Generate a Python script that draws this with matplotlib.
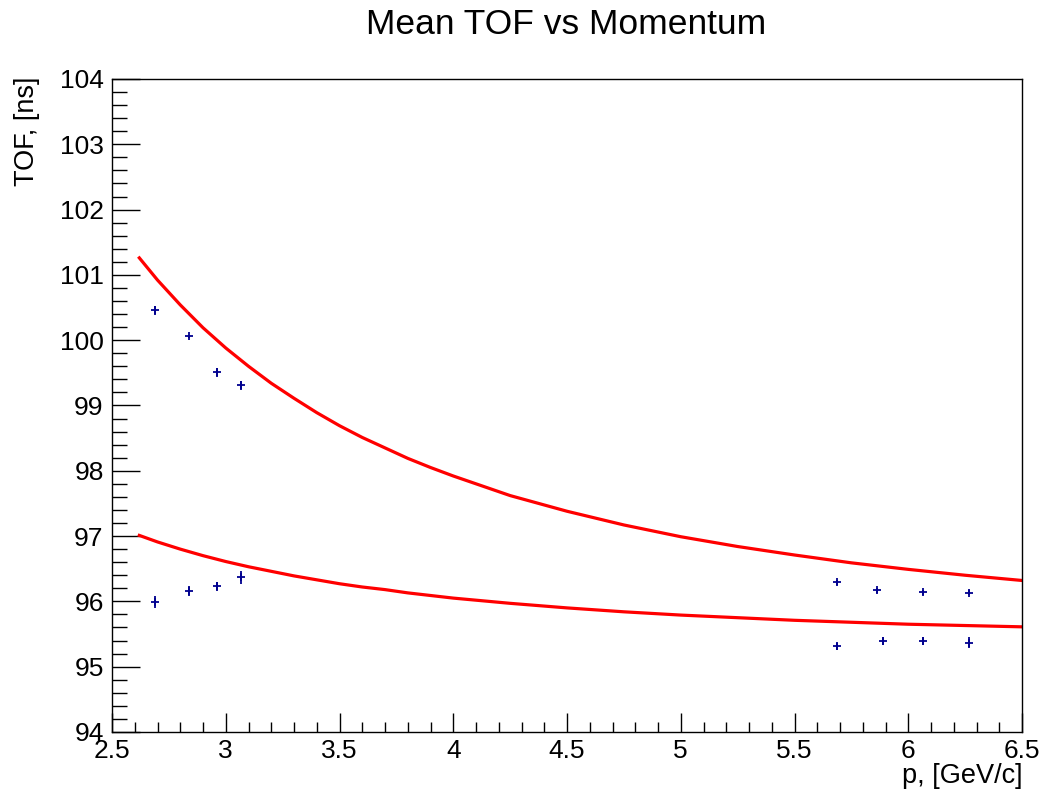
import matplotlib
matplotlib.use("Agg")
import matplotlib.pyplot as plt
from matplotlib.ticker import MultipleLocator

plt.rcParams['font.family'] = ['Liberation Sans', 'DejaVu Sans']

# Measured mean TOF points (two mass hypotheses, two momentum groups)
p_heavy = [2.689, 2.838, 2.960, 3.067, 5.688, 5.863, 6.065, 6.266]
tof_heavy = [100.46, 100.06, 99.51, 99.31, 96.29, 96.17, 96.14, 96.13]
err_heavy = [0.07, 0.02, 0.07, 0.07, 0.04, 0.04, 0.04, 0.04]

p_light = [2.689, 2.838, 2.960, 3.067, 5.688, 5.889, 6.065, 6.266]
tof_light = [95.99, 96.16, 96.23, 96.37, 95.31, 95.39, 95.39, 95.37]
err_light = [0.085, 0.08, 0.065, 0.10, 0.06, 0.06, 0.06, 0.09]

# Expected TOF curves
p_curve = [2.62, 2.7, 2.8, 2.9, 3.0, 3.1, 3.2, 3.3, 3.4, 3.5, 3.6, 3.7, 3.8, 3.9,
           4.0, 4.25, 4.5, 4.75, 5.0, 5.25, 5.5, 5.75, 6.0, 6.25, 6.5]
tof_curve_heavy = [101.26, 100.92, 100.54, 100.19, 99.88, 99.60, 99.34, 99.11,
                   98.89, 98.69, 98.51, 98.35, 98.19, 98.05, 97.92, 97.62,
                   97.38, 97.17, 96.99, 96.84, 96.71, 96.59, 96.49, 96.40, 96.32]
tof_curve_light = [97.01, 96.91, 96.80, 96.70, 96.61, 96.53, 96.46, 96.39,
                   96.33, 96.27, 96.22, 96.18, 96.13, 96.09, 96.05, 95.97,
                   95.90, 95.84, 95.79, 95.75, 95.71, 95.68, 95.65, 95.63, 95.61]

fig = plt.figure(figsize=(10.45, 7.92), dpi=100)
ax = fig.add_axes([0.1072, 0.0758, 0.978 - 0.1072, 0.9003 - 0.0758])

ax.plot(p_curve, tof_curve_heavy, color='#ff0000', lw=2.3)
ax.plot(p_curve, tof_curve_light, color='#ff0000', lw=2.3)

marker_color = '#00008f'
for px, py, pe in [(p_heavy, tof_heavy, err_heavy), (p_light, tof_light, err_light)]:
    ax.errorbar(px, py, yerr=pe, fmt='+', color=marker_color, ms=6, mew=1.3,
                elinewidth=1.3, capsize=0)

ax.set_xlim(2.5, 6.5)
ax.set_ylim(94, 104)

ax.xaxis.set_major_locator(MultipleLocator(0.5))
ax.xaxis.set_minor_locator(MultipleLocator(0.1))
ax.yaxis.set_major_locator(MultipleLocator(1))
ax.yaxis.set_minor_locator(MultipleLocator(0.2))

ax.xaxis.set_major_formatter(plt.FuncFormatter(lambda v, _: f"{v:g}"))
ax.yaxis.set_major_formatter(plt.FuncFormatter(lambda v, _: f"{v:g}"))

ax.tick_params(axis='both', which='both', direction='in', top=False, right=False,
               labelsize=19, color='black', width=1.0)
ax.tick_params(axis='y', which='major', length=20, pad=6)
ax.tick_params(axis='y', which='minor', length=10.5)
ax.tick_params(axis='x', which='major', length=14, pad=5)
ax.tick_params(axis='x', which='minor', length=7)

for s in ax.spines.values():
    s.set_linewidth(1.0)
    s.set_color('black')

ax.set_xlabel('p, [GeV/c]', fontsize=19.5, loc='right', labelpad=0)
fig.text(27 / 1045, 1 - 77 / 792, 'TOF, [ns]', rotation=90, ha='center', va='top',
         fontsize=19.5)

fig.text(566 / 1045, 1 - 25 / 792, 'Mean TOF vs Momentum', ha='center', va='center',
         fontsize=25.5)

fig.savefig('out.png', dpi=100)
